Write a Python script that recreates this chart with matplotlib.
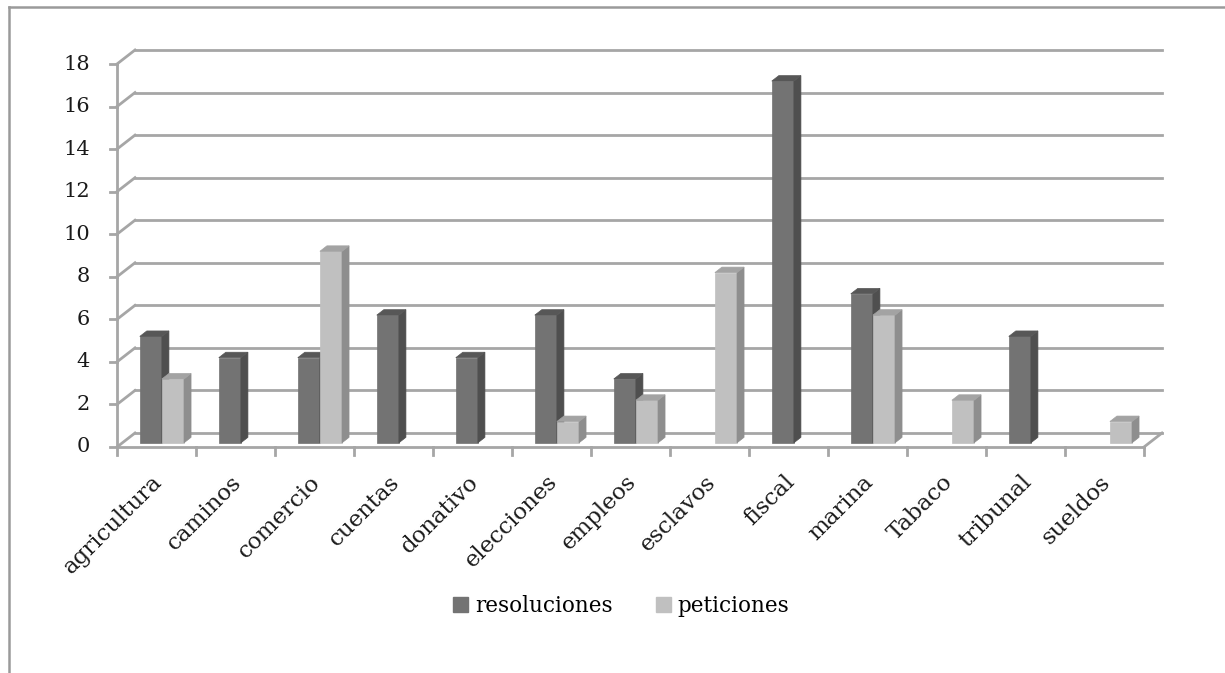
import matplotlib
matplotlib.use("Agg")
import matplotlib.pyplot as plt
from matplotlib.patches import Polygon, Patch
from matplotlib.lines import Line2D
from matplotlib.transforms import IdentityTransform

categorias = ["agricultura", "caminos", "comercio", "cuentas", "donativo",
              "elecciones", "empleos", "esclavos", "fiscal", "marina",
              "Tabaco", "tribunal", "sueldos"]
resoluciones = [5, 4, 4, 6, 4, 6, 3, 0, 17, 7, 0, 5, 0]
peticiones = [3, 0, 9, 0, 0, 1, 2, 8, 0, 6, 2, 0, 1]
yticks = list(range(0, 19, 2))

# colores: cara frontal, lateral, superior
oscuro = ("#737373", "#4f4f4f", "#575757")
claro = ("#c0c0c0", "#8e8e8e", "#a3a3a3")
gris = "#a6a6a6"

plt.rcParams["font.family"] = ["DejaVu Serif"]

fig = plt.figure(figsize=(12.25, 6.73), dpi=100)
ax = fig.add_axes([117 / 1225, 226 / 673, 1027 / 1225, 383 / 673])
ax.set_xlim(0, len(categorias))
ax.set_ylim(0, 18)
ax.axis("off")

# desplazamiento de profundidad (pixeles) para la pared del fondo
DX, DY = 18, 14
ID = IdentityTransform()


def proj(x, v, d=0.0):
    px, py = ax.transData.transform((x, v))
    return (px + DX * d, py + DY * d)


def linea(p, q, **kw):
    ax.add_line(Line2D([p[0], q[0]], [p[1], q[1]], transform=ID,
                       color=gris, lw=2, clip_on=False, **kw))


# pared del fondo y pared lateral
for v in yticks:
    linea(proj(0, v, 0), proj(0, v, 1), zorder=1)
    linea(proj(0, v, 1), proj(len(categorias), v, 1), zorder=1)
    px, py = proj(0, v, 0)
    linea((px - 7, py), (px, py), zorder=1)
    ax.text(px - 27, py, str(v), transform=ID, ha="right", va="center",
            fontsize=15, color="#1a1a1a")
linea(proj(0, 0, 0), proj(0, 18, 0), zorder=1)

# piso
n = len(categorias)
linea(proj(0, 0, 0), proj(n, 0, 0), zorder=1)
linea(proj(n, 0, 0), proj(n, 0, 1), zorder=1)
for i in range(n + 1):
    px, py = proj(i, 0, 0)
    linea((px, py), (px, py - 8), zorder=1)

# barras 3D
ancho = 0.28
d0, d1 = 0.3, 0.69


def barra(x0, v, colores):
    if v <= 0:
        return
    x1 = x0 + ancho
    frente = [proj(x0, 0, d0), proj(x1, 0, d0), proj(x1, v, d0), proj(x0, v, d0)]
    lado = [proj(x1, 0, d0), proj(x1, 0, d1), proj(x1, v, d1), proj(x1, v, d0)]
    tapa = [proj(x0, v, d0), proj(x1, v, d0), proj(x1, v, d1), proj(x0, v, d1)]
    for pts, c in zip((frente, lado, tapa), colores):
        ax.add_patch(Polygon(pts, closed=True, transform=ID, facecolor=c,
                             edgecolor=c, lw=0.5, zorder=3, clip_on=False))


for i in range(n):
    barra(i + 0.22, resoluciones[i], oscuro)
    barra(i + 0.22 + ancho, peticiones[i], claro)

# etiquetas de categorias
for i, nombre in enumerate(categorias):
    px, py = proj(i + 0.5, 0, 0)
    ax.text(px - 5, py - 24, nombre, transform=ID, rotation=45,
            rotation_mode="anchor", ha="right", va="top", fontsize=16.5,
            color="#1a1a1a")

fig.legend(handles=[Patch(color=oscuro[0], label="resoluciones"),
                    Patch(color=claro[0], label="peticiones")],
           loc="center", bbox_to_anchor=(0.507, 1 - 606 / 673), ncol=2,
           frameon=False, fontsize=15.5, handlelength=0.7, handleheight=0.7,
           handletextpad=0.3, columnspacing=2.0)

# marco exterior (solo arriba e izquierda quedan dentro de la imagen)
for xs, ys in (([9, 9], [0, 666]), ([9, 1225], [666, 666])):
    fig.add_artist(Line2D([x / 1225 for x in xs], [y / 673 for y in ys],
                          transform=fig.transFigure, color="#9a9a9a", lw=1.8))

fig.savefig("out.png", dpi=100)
